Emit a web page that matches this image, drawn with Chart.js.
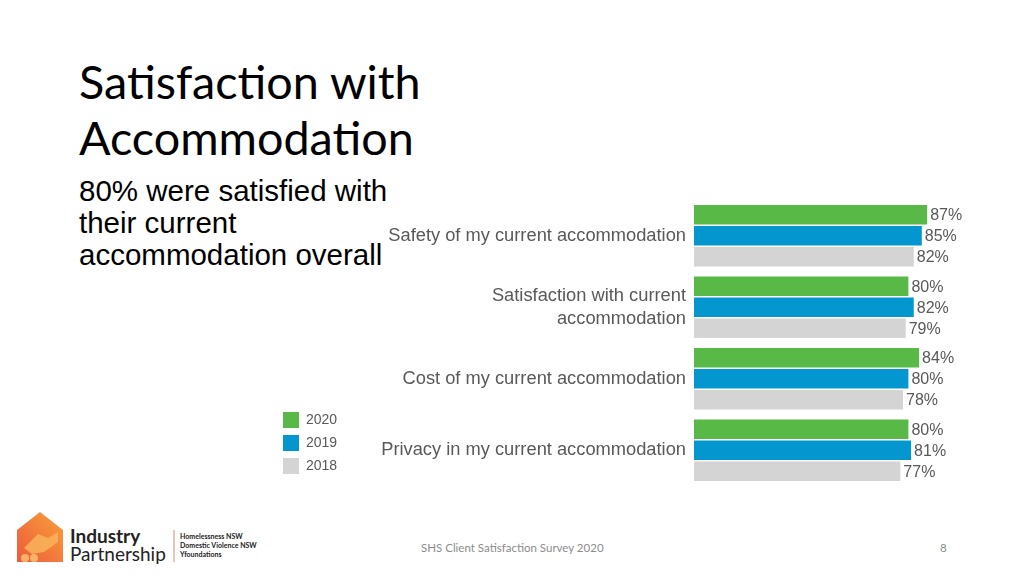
<!DOCTYPE html>
<html lang="en">
<head>
    <meta charset="UTF-8">
    <title>Satisfaction with Accommodation</title>
    <style>
        body {
            margin: 0;
            width: 1024px;
            height: 576px;
            background: #ffffff;
            position: relative;
            overflow: hidden;
            font-family: 'Liberation Sans', Arial, sans-serif;
        }

        h1 {
            position: absolute;
            left: 79px;
            top: 53px;
            margin: 0;
            font-family: Lato, 'Open Sans', sans-serif;
            font-weight: 400;
            font-size: 46.7px;
            line-height: 56px;
            color: #000;
        }

        .lead {
            position: absolute;
            left: 79px;
            top: 175px;
            margin: 0;
            font-size: 29.5px;
            line-height: 32px;
            color: #000;
        }

        .chart-box {
            position: absolute;
            left: 270px;
            top: 190px;
            width: 720px;
            height: 300px;
        }

        .footer {
            position: absolute;
            top: 541px;
            font-family: Lato, 'Open Sans', sans-serif;
            font-size: 11.5px;
            color: #8c8c8c;
        }

        .logo {
            position: absolute;
            left: 14px;
            top: 508px;
        }
    </style>
    <script src="https://cdn.jsdelivr.net/npm/chart.js"></script>
</head>
<body>

    <h1>Satisfaction with<br>Accommodation</h1>
    <p class="lead">80% were satisfied with<br>their current<br>accommodation overall</p>

    <div class="chart-box">
        <canvas id="accomChart" width="720" height="300"></canvas>
    </div>

    <svg class="logo" width="260" height="60" viewBox="0 0 260 60">
        <defs>
            <linearGradient id="houseGrad" x1="0" y1="1" x2="1" y2="0">
                <stop offset="0" stop-color="#ee5a3c"/>
                <stop offset="1" stop-color="#f7a13a"/>
            </linearGradient>
        </defs>
        <path d="M3 22 L26 4 L49 22 L49 54 L3 54 Z" fill="url(#houseGrad)"/>
        <path d="M10 40 L24 26 L34 30 L44 24 L44 34 L30 44 L18 46 Z" fill="#f9b35a" opacity="0.85"/>
        <circle cx="11" cy="50" r="4" fill="#f7b36a"/>
        <circle cx="20" cy="50" r="4" fill="#f7b36a"/>
        <text x="56" y="35" font-family="Lato, sans-serif" font-weight="700" font-size="19" fill="#222">Industry</text>
        <text x="56" y="53" font-family="Lato, sans-serif" font-size="19" fill="#222">Partnership</text>
        <line x1="160" y1="22" x2="160" y2="54" stroke="#d98a6a" stroke-width="1"/>
        <text x="166" y="31" font-family="Lato, sans-serif" font-weight="700" font-size="7" fill="#222">Homelessness NSW</text>
        <text x="166" y="40" font-family="Lato, sans-serif" font-weight="700" font-size="7" fill="#222">Domestic Violence NSW</text>
        <text x="166" y="49" font-family="Lato, sans-serif" font-weight="700" font-size="7" fill="#222">Yfoundations</text>
    </svg>

    <div class="footer" style="left: 421px;">SHS Client Satisfaction Survey 2020</div>
    <div class="footer" style="left: 940px;">8</div>

    <script>
        // data
        const categories = [
            'Safety of my current accommodation',
            ['Satisfaction with current', 'accommodation'],
            'Cost of my current accommodation',
            'Privacy in my current accommodation'
        ];
        const years = ['2020', '2019', '2018'];
        const values2020 = [87, 80, 84, 80];
        const values2019 = [85, 82, 80, 81];
        const values2018 = [82, 79, 78, 77];

        const labelGrey = '#595959';

        // percentage text to the right of each bar
        const valueLabels = {
            id: 'valueLabels',
            afterDatasetsDraw(chart) {
                const ctx = chart.ctx;
                ctx.save();
                ctx.font = '16px "Liberation Sans", Arial, sans-serif';
                ctx.fillStyle = labelGrey;
                ctx.textAlign = 'left';
                ctx.textBaseline = 'middle';
                chart.data.datasets.forEach((ds, i) => {
                    chart.getDatasetMeta(i).data.forEach((bar, j) => {
                        ctx.fillText(ds.data[j] + '%', bar.x + 3, bar.y + 1);
                    });
                });
                ctx.restore();
            }
        };

        // legend sits a little above the bottom of the plot on the slide
        const legendNudge = {
            id: 'legendNudge',
            afterLayout(chart) {
                chart.legend.bottom -= 5;
            }
        };

        const ctx = document.getElementById('accomChart').getContext('2d');
        new Chart(ctx, {
            type: 'bar',
            data: {
                labels: categories,
                datasets: [
                    { label: years[0], data: values2020, backgroundColor: '#58b947' },
                    { label: years[1], data: values2019, backgroundColor: '#0497cf' },
                    { label: years[2], data: values2018, backgroundColor: '#d4d4d4' }
                ]
            },
            options: {
                indexAxis: 'y',
                animation: false,
                responsive: false,
                categoryPercentage: 0.88,
                barPercentage: 0.93,
                layout: {
                    padding: { left: 6, right: 28, top: 10, bottom: 4 }
                },
                scales: {
                    x: {
                        display: false,
                        min: 0,
                        max: 100
                    },
                    y: {
                        grid: { display: false, drawTicks: false },
                        border: { display: false },
                        ticks: {
                            color: labelGrey,
                            padding: 8,
                            font: { family: '"Liberation Sans", Arial, sans-serif', size: 18.3, lineHeight: 1.25 }
                        },
                        afterFit(scale) {
                            // plot starts at x=694 on the page, labels sit inside the bands
                            scale.width = 418 - scale.chart.legend.width;
                            scale.paddingTop = 0;
                            scale.paddingBottom = 0;
                        }
                    }
                },
                plugins: {
                    legend: {
                        position: 'left',
                        align: 'end',
                        labels: {
                            boxWidth: 16,
                            boxHeight: 16,
                            padding: 7,
                            color: labelGrey,
                            font: { family: '"Liberation Sans", Arial, sans-serif', size: 14 }
                        }
                    },
                    tooltip: { enabled: false }
                }
            },
            plugins: [valueLabels, legendNudge]
        });
    </script>

</body>
</html>
